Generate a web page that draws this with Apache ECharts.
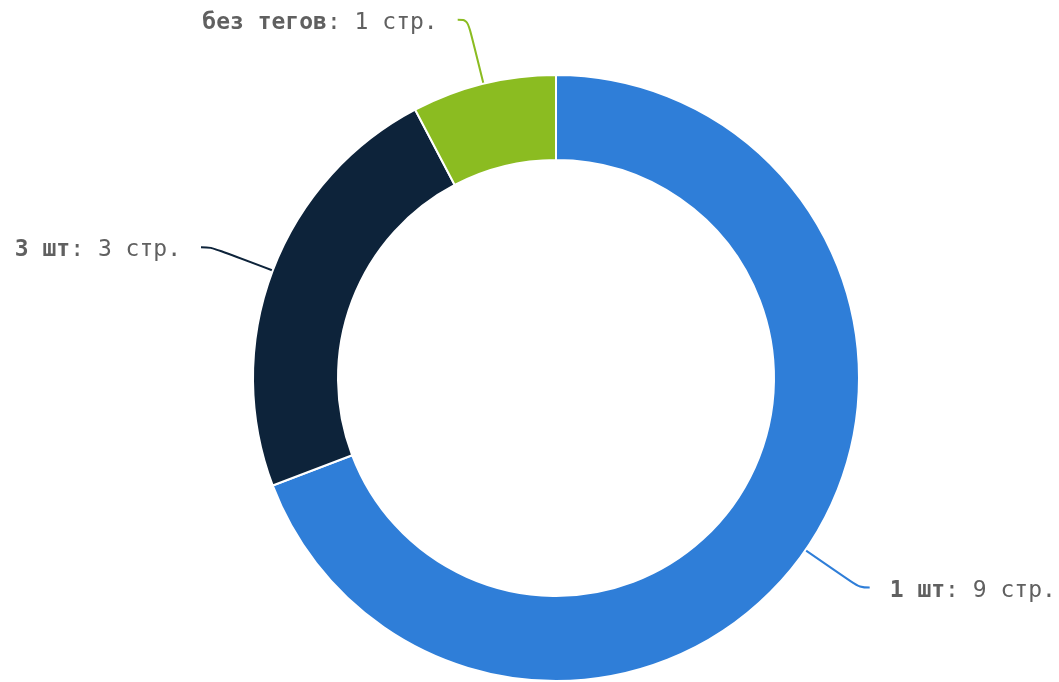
<!DOCTYPE html>
<html>
<head>
<meta charset="utf-8">
<script src="https://cdn.jsdelivr.net/npm/echarts@6/dist/echarts.min.js"></script>
<style>
  html, body { margin: 0; padding: 0; background: #fff; }
  #chart { width: 1059px; height: 682px; }
</style>
</head>
<body>
<div id="chart"></div>
<script>
// данные
const names = ["1 шт", "3 шт", "без тегов"];
const pages = [9, 3, 1];
const colors = ["#2f7ed8", "#0d233a", "#8bbc21"];

const chart = echarts.init(document.getElementById("chart"));

const data = names.map((n, i) => ({
  name: n,
  value: pages[i],
  itemStyle: { color: colors[i] },
  labelLine: { lineStyle: { color: colors[i] } },
}));

chart.setOption({
  animation: false,
  series: [
    {
      type: "pie",
      center: [556, 378],
      radius: [218, 303],
      startAngle: 90,
      clockwise: true,
      avoidLabelOverlap: false,
      itemStyle: { borderColor: "#fff", borderWidth: 2 },
      label: {
        show: true,
        position: "outside",
        distanceToLabelLine: 20,
        padding: [6, 0, 0, 0],
        fontFamily: "DejaVu Sans Mono",
        fontSize: 23,
        color: "#606060",
        formatter: (p) => `{b|${p.name}}: ${p.value} стр.`,
        rich: {
          b: {
            fontFamily: "DejaVu Sans Mono",
            fontSize: 23,
            fontWeight: "bold",
            color: "#606060",
          },
        },
      },
      labelLine: {
        show: true,
        length: 66,
        length2: 10,
        smooth: 0.4,
        lineStyle: { width: 2 },
      },
      emphasis: { disabled: true },
      data,
    },
  ],
});
</script>
</body>
</html>
